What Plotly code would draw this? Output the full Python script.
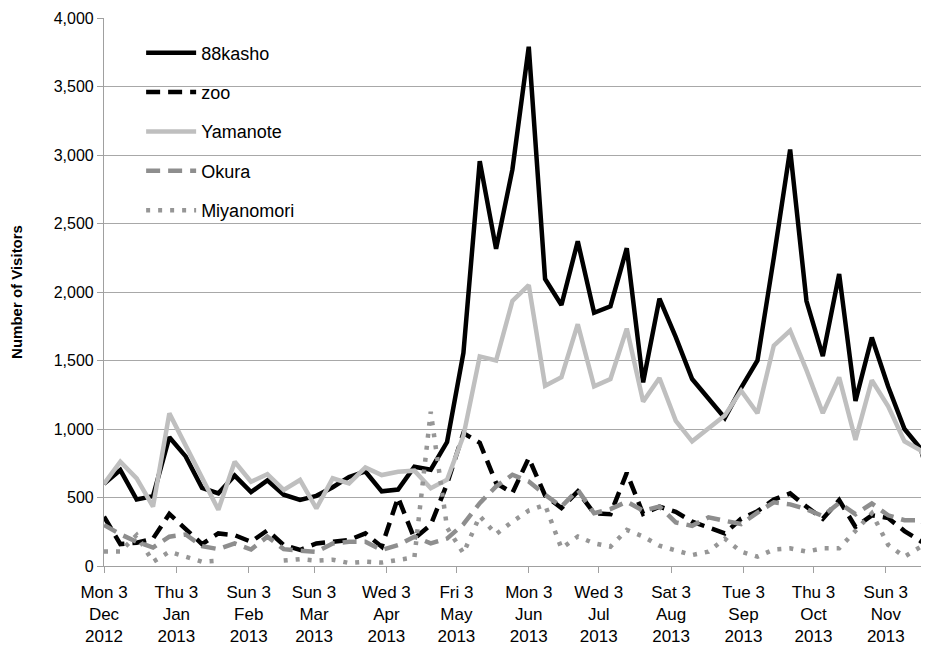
import plotly.graph_objects as go

weeks = [
    "2012-12-03", "2012-12-10", "2012-12-17", "2012-12-24", "2012-12-31",
    "2013-01-07", "2013-01-14", "2013-01-21", "2013-01-28", "2013-02-04",
    "2013-02-11", "2013-02-18", "2013-02-25", "2013-03-04", "2013-03-11",
    "2013-03-18", "2013-03-25", "2013-04-01", "2013-04-08", "2013-04-15",
    "2013-04-22", "2013-04-29", "2013-05-06", "2013-05-13", "2013-05-20",
    "2013-05-27", "2013-06-03", "2013-06-10", "2013-06-17", "2013-06-24",
    "2013-07-01", "2013-07-08", "2013-07-15", "2013-07-22", "2013-07-29",
    "2013-08-05", "2013-08-12", "2013-08-19", "2013-08-26", "2013-09-02",
    "2013-09-09", "2013-09-16", "2013-09-23", "2013-09-30", "2013-10-07",
    "2013-10-14", "2013-10-21", "2013-10-28", "2013-11-04", "2013-11-11",
    "2013-11-18", "2013-11-25",
]

kasho88 = [600, 700, 485, 510, 940, 800, 570, 530, 660, 540,
           625, 520, 482, 512, 575, 650, 690, 545, 558, 725,
           703, 905, 1555, 2955, 2315, 2895, 3790, 2095, 1905, 2370,
           1848, 1895, 2320, 1340, 1952, 1670, 1365, 1225, 1080, 1300,
           1500, 2250, 3040, 1934, 1532, 2131, 1205, 1668, 1310, 1000,
           855, 420]

zoo = [360, 160, 170, 200, 380, 270, 160, 238, 225, 177,
       260, 153, 117, 165, 177, 190, 238, 141, 500, 200,
       300, 600, 970, 900, 606, 533, 788, 515, 423, 545,
       385, 378, 680, 380, 433, 395, 324, 280, 238, 345,
       400, 485, 530, 433, 345, 481, 285, 370, 350, 255,
       180, 140]

yamanote = [600, 761, 640, 433, 1114, 880, 650, 410, 761, 615,
            670, 555, 628, 420, 640, 603, 720, 664, 688, 696,
            567, 630, 950, 1530, 1500, 1935, 2050, 1316, 1378, 1765,
            1312, 1365, 1733, 1200, 1372, 1060, 910, 1000, 1098, 1280,
            1115, 1609, 1719, 1430, 1116, 1377, 921, 1356, 1165, 910,
            843, 600]

okura = [299, 232, 177, 135, 214, 230, 145, 123, 165, 120,
         214, 123, 112, 104, 165, 177, 177, 117, 153, 214,
         165, 200, 305, 459, 580, 666, 617, 520, 434, 556,
         385, 415, 470, 403, 434, 318, 293, 355, 330, 306,
         390, 465, 450, 414, 365, 460, 378, 456, 370, 334,
         334, 200]

miyanomori = [105, 105, 226, 30, 104, 68, 31, 39, None, None,
              None, 40, 50, 39, 46, 22, 31, 25, 42, 63,
              1126, 280, 93, 365, 232, 324, 405, 446, 129, 215,
              166, 141, 263, 215, 148, 117, 80, 105, 200, 105,
              68, 120, 129, 105, 129, 129, 263, 385, 154, 68,
              141, 250]

tick_dates = ["2012-12-03", "2013-01-03", "2013-02-03", "2013-03-03", "2013-04-03",
              "2013-05-03", "2013-06-03", "2013-07-03", "2013-08-03", "2013-09-03",
              "2013-10-03", "2013-11-03"]
tick_labels = ["Mon 3<br>Dec<br>2012", "Thu 3<br>Jan<br>2013", "Sun 3<br>Feb<br>2013",
               "Sun 3<br>Mar<br>2013", "Wed 3<br>Apr<br>2013", "Fri 3<br>May<br>2013",
               "Mon 3<br>Jun<br>2013", "Wed 3<br>Jul<br>2013", "Sat 3<br>Aug<br>2013",
               "Tue 3<br>Sep<br>2013", "Thu 3<br>Oct<br>2013", "Sun 3<br>Nov<br>2013"]

FONT = "Liberation Sans, Arial, sans-serif"

series = [
    ("88kasho", kasho88, "#000000", "solid"),
    ("zoo", zoo, "#000000", "14px,8px"),
    ("Yamanote", yamanote, "#bfbfbf", "solid"),
    ("Okura", okura, "#8e8e8e", "14px,8px"),
    ("Miyanomori", miyanomori, "#969696", "4px,8px"),
]

fig = go.Figure()
for name, vals, color, dash in series:
    fig.add_trace(go.Scatter(
        x=weeks, y=vals, name=name, mode="lines",
        line=dict(color=color, width=4.5, dash=dash),
        connectgaps=False, legendgroup=name,
    ))

# page body has an 8px margin, so the figure is sized/margined to land the
# plot area on the reference positions
fig.update_layout(
    width=921, height=647,
    margin=dict(l=96, r=0, t=10, b=89),
    paper_bgcolor="white", plot_bgcolor="white",
    font=dict(family=FONT, size=16, color="#000000"),
    showlegend=True,
    legend=dict(
        x=0.045, y=0.97, xanchor="left", yanchor="top",
        bgcolor="rgba(0,0,0,0)", font=dict(size=18),
        traceorder="grouped", tracegroupgap=13, itemwidth=50,
    ),
    xaxis=dict(
        type="date",
        range=["2012-12-03", "2013-11-21 12:00"],
        tickvals=tick_dates, ticktext=tick_labels,
        tickfont=dict(size=17), ticklabelstandoff=4,
        showgrid=False, showline=True, linecolor="#a0a0a0", linewidth=1.2,
        ticks="outside", ticklen=6, tickcolor="#a0a0a0", tickwidth=1.2,
        zeroline=False,
    ),
    yaxis=dict(
        range=[0, 4000], dtick=500, tickformat=",",
        tickfont=dict(size=16),
        showgrid=True, gridcolor="#a8a8a8", gridwidth=1.2,
        showline=True, linecolor="#a0a0a0", linewidth=1.2,
        ticks="outside", ticklen=6, tickcolor="#a0a0a0", tickwidth=1.2,
        zeroline=False,
        title=dict(text="<b>Number of Visitors</b>", font=dict(size=15), standoff=28),
    ),
)

fig.write_html("out.html")
